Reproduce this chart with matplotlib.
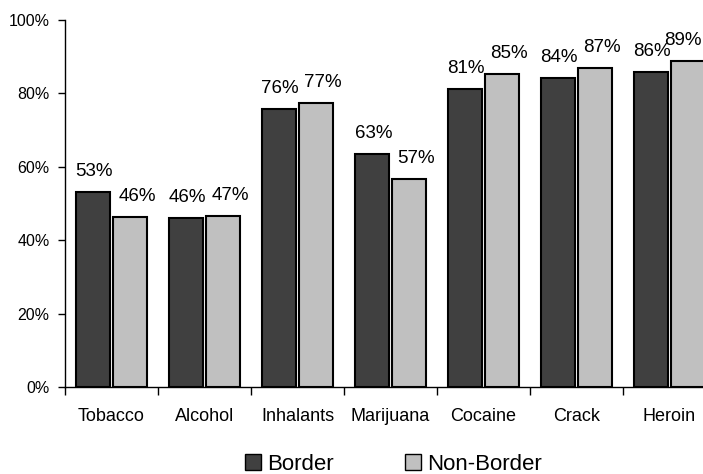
import numpy as np
import matplotlib
matplotlib.use("Agg")
import matplotlib.pyplot as plt
from matplotlib.patches import Patch

plt.rcParams['font.family'] = ['Liberation Sans', 'DejaVu Sans']

# Dane
categories = ["Tobacco", "Alcohol", "Inhalants", "Marijuana", "Cocaine", "Crack", "Heroin"]
border = [53.1, 46.0, 75.8, 63.4, 81.2, 84.2, 85.8]
non_border = [46.4, 46.6, 77.4, 56.6, 85.3, 86.9, 88.8]
series_names = ["Border", "Non-Border"]
yticks = [0, 20, 40, 60, 80, 100]

dark = "#404040"
light = "#c0c0c0"

fig = plt.figure(figsize=(7.03, 4.74), dpi=100)
# oś wychodzi trochę poza prawą krawędź, jak w oryginale
ax = fig.add_axes([65 / 703, 1 - 387 / 474, 651 / 703, 367 / 474])

x = np.arange(len(categories))
w = 0.36
ax.bar(x - 0.2, border, w, color=dark, edgecolor="black", linewidth=1.5, zorder=2)
ax.bar(x + 0.2, non_border, w, color=light, edgecolor="black", linewidth=1.5, zorder=2)

# Etykiety wartości
labels = []
for xi, v in zip(x - 0.2, border):
    labels.append(ax.annotate(f"{round(v)}%", (xi, v), xytext=(1, 11.5), textcoords="offset points",
                              ha="center", va="baseline", fontsize=13.5))
for xi, v in zip(x + 0.2, non_border):
    labels.append(ax.annotate(f"{round(v)}%", (xi, v), xytext=(5, 11.5), textcoords="offset points",
                              ha="center", va="baseline", fontsize=13.5))

ax.set_xlim(-0.5, len(categories) - 0.5)
ax.set_ylim(0, 100)
ax.set_yticks(yticks)
ax.set_yticklabels([f"{t}%" for t in yticks], fontsize=11.5)
ax.tick_params(axis="y", length=5, width=1, pad=6, direction="out")

ax.set_xticks(x)
ax.set_xticklabels(categories, fontsize=13)
ax.tick_params(axis="x", which="major", length=0, pad=15)
ax.set_xticks(np.arange(len(categories) + 1) - 0.5, minor=True)
ax.tick_params(axis="x", which="minor", length=6, width=1, direction="out")

ax.spines["top"].set_visible(False)
ax.spines["right"].set_visible(False)
ax.spines["left"].set_linewidth(1)
ax.spines["bottom"].set_linewidth(1)

handles = [Patch(facecolor=dark, edgecolor="black", linewidth=1),
           Patch(facecolor=light, edgecolor="black", linewidth=1)]
fig.legend(handles, series_names, loc="center", bbox_to_anchor=(0.56, 0.02), ncol=2,
           frameon=False, fontsize=16, handlelength=0.7, handleheight=0.7,
           handletextpad=0.3, columnspacing=3.2, borderpad=0)

# etykiety przy prawej krawędzi przesuwamy w lewo, żeby się mieściły
fig.canvas.draw()
r = fig.renderer if hasattr(fig, "renderer") else fig.canvas.get_renderer()
for t in labels:
    bb = t.get_window_extent(r)
    over = bb.x1 - (fig.bbox.width - 1)
    if over > 0:
        dx, dy = t.xyann
        t.xyann = (dx - over * 72 / fig.dpi, dy)

fig.savefig("out.png", dpi=100)
